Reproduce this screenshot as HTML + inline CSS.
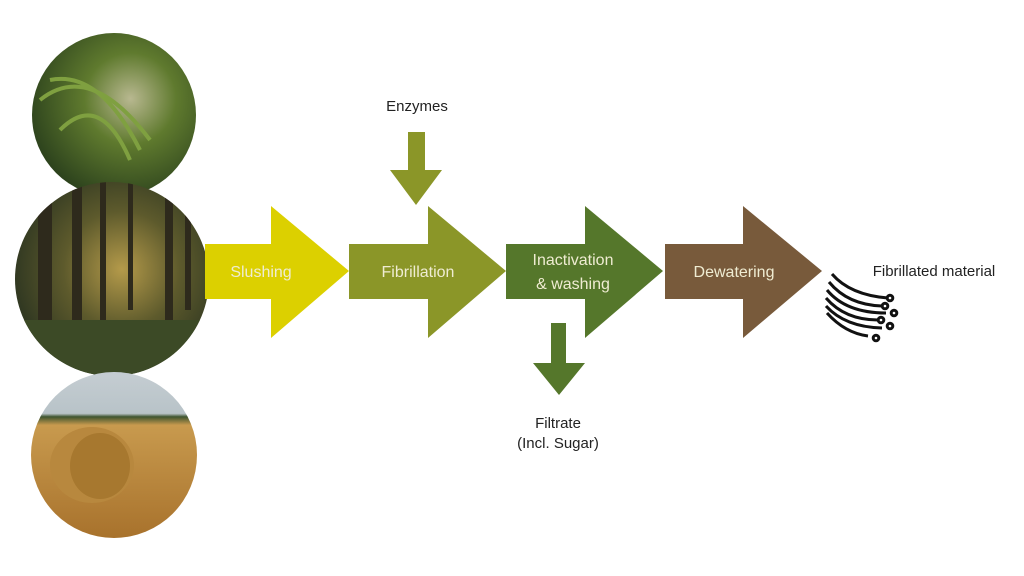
<!DOCTYPE html>
<html><head><meta charset="utf-8"><style>
html,body{margin:0;padding:0;background:#fff;width:1024px;height:576px;overflow:hidden}
svg{display:block}
text{font-family:"Liberation Sans",sans-serif}
</style></head><body>
<svg width="1024" height="576" viewBox="0 0 1024 576" xmlns="http://www.w3.org/2000/svg">
<defs>
<radialGradient id="g1" cx="0.6" cy="0.4" r="0.7"><stop offset="0" stop-color="#b8b890"/><stop offset="0.4" stop-color="#5f7a2e"/><stop offset="1" stop-color="#24391a"/></radialGradient>
<radialGradient id="g2" cx="0.55" cy="0.45" r="0.6"><stop offset="0" stop-color="#b49a4a"/><stop offset="0.5" stop-color="#5d5a2c"/><stop offset="1" stop-color="#2a3320"/></radialGradient>
<linearGradient id="g3" x1="0" y1="0" x2="0" y2="1"><stop offset="0" stop-color="#c5cdd2"/><stop offset="0.25" stop-color="#b8c3c8"/><stop offset="0.27" stop-color="#3f5530"/><stop offset="0.32" stop-color="#c89a4e"/><stop offset="1" stop-color="#a8722c"/></linearGradient>
<clipPath id="c2"><circle cx="112" cy="279" r="97"/></clipPath>
</defs>
<circle cx="114" cy="115" r="82" fill="url(#g1)"/>
<path d="M40 100 Q90 60 150 140 M50 80 Q100 70 140 150 M60 130 Q100 90 130 160" stroke="#7fa040" stroke-width="4" fill="none"/>
<circle cx="112" cy="279" r="97" fill="url(#g2)"/>
<g clip-path="url(#c2)" fill="#2e2a1c">
<rect x="38" y="180" width="14" height="150"/><rect x="72" y="180" width="10" height="150"/><rect x="100" y="180" width="6" height="140"/><rect x="128" y="180" width="5" height="130"/><rect x="165" y="180" width="8" height="140"/><rect x="185" y="180" width="6" height="130"/>
<rect x="10" y="320" width="210" height="60" fill="#3c4a26"/>
</g>
<circle cx="114" cy="455" r="83" fill="url(#g3)"/>
<ellipse cx="92" cy="465" rx="42" ry="38" fill="#b8883e"/>
<ellipse cx="100" cy="466" rx="30" ry="33" fill="#a7782f"/>
<polygon points="205,244 271,244 271,206 349,271 271,338 271,299 205,299" fill="#dcd000"/>
<polygon points="349,244 428,244 428,206 506,271 428,338 428,299 349,299" fill="#8b9628"/>
<polygon points="506,244 585,244 585,206 663,271 585,338 585,299 506,299" fill="#55772b"/>
<polygon points="665,244 743,244 743,206 822,271 743,338 743,299 665,299" fill="#785a3b"/>
<polygon points="408,132 425,132 425,170 442,170 416,205 390,170 408,170" fill="#8b9628"/>
<polygon points="551,323 566,323 566,363 585,363 559,395 533,363 551,363" fill="#55772b"/>
<g fill="#efecd2" font-size="16" text-anchor="middle">
<text x="261" y="277">Slushing</text>
<text x="418" y="277">Fibrillation</text>
<text x="573" y="265">Inactivation</text>
<text x="573" y="289">&amp; washing</text>
<text x="734" y="277">Dewatering</text>
</g>
<g fill="#222" font-size="15" text-anchor="middle">
<text x="417" y="111">Enzymes</text>
<text x="558" y="428">Filtrate</text>
<text x="558" y="448">(Incl. Sugar)</text>
<text x="934" y="276">Fibrillated material</text>
</g>
<g stroke="#111" stroke-width="3" fill="none">
<path d="M832 274 Q850 295 888 298"/><path d="M829 282 Q848 305 882 306"/><path d="M827 290 Q846 313 886 313"/><path d="M826 298 Q845 320 878 320"/><path d="M826 306 Q845 327 882 328"/><path d="M827 313 Q845 333 868 336"/>
<circle cx="890" cy="298" r="2.8"/><circle cx="885" cy="306" r="2.8"/><circle cx="894" cy="313" r="2.8"/><circle cx="881" cy="320" r="2.8"/><circle cx="890" cy="326" r="2.8"/><circle cx="876" cy="338" r="2.8"/>
</g>
</svg>
</body></html>
